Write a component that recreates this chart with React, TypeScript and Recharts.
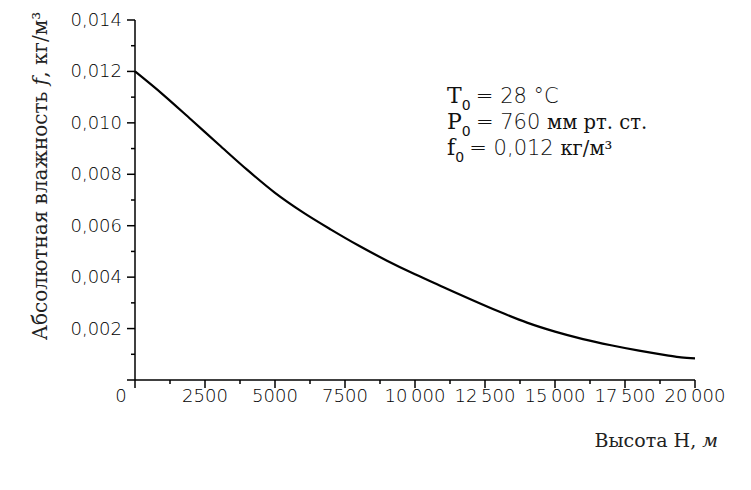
import React from 'react';
import { LineChart, Line, XAxis, YAxis } from 'recharts';

// height, m
const HEIGHTS = [0, 1000, 2000, 3000, 4000, 5000, 6000, 7000, 8000, 9000, 10000, 11000, 12000, 13000, 14000, 15000, 16000, 17000, 18000, 19000, 19500, 20000];
// absolute humidity f, kg/m3
const HUMIDITY = [0.012, 0.0111, 0.01013, 0.00915, 0.00818, 0.00728, 0.00652, 0.00585, 0.00522, 0.00464, 0.00411, 0.00362, 0.00313, 0.00266, 0.00223, 0.00188, 0.00159, 0.00135, 0.00114, 0.00096, 0.00088, 0.00084];

const X_TICKS = [0, 1250, 2500, 3750, 5000, 6250, 7500, 8750, 10000, 11250, 12500, 13750, 15000, 16250, 17500, 18750, 20000];
const Y_TICKS = [0, 0.001, 0.002, 0.003, 0.004, 0.005, 0.006, 0.007, 0.008, 0.009, 0.01, 0.011, 0.012, 0.013, 0.014];

const data = HEIGHTS.map((h, i) => ({ h, f: HUMIDITY[i] }));

const SANS = 'DejaVu Sans';
const SERIF = 'DejaVu Serif';

const fmtX = (v: number) => (v >= 10000 ? `${Math.floor(v / 1000)}\u2009${String(v % 1000).padStart(3, '0')}` : String(v));
const fmtY = (v: number) => v.toFixed(3).replace('.', ',');

const XTick = (props: any) => {
  const { x, y, payload } = props;
  const v = payload.value;
  const major = v % 2500 === 0;
  return (
    <g>
      <line x1={x} x2={x} y1={y} y2={y + (major ? 8 : 4)} stroke="#000" strokeWidth={1.5} />
      {major && (
        <text x={v === 0 ? x - 14 : x} y={y + 22} textAnchor="middle" fontFamily={SANS} fontSize={18} fontWeight={200} fill="#000">
          {fmtX(v)}
        </text>
      )}
    </g>
  );
};

const YTick = (props: any) => {
  const { x, y, payload } = props;
  const v = payload.value;
  const major = Math.round(v * 1000) % 2 === 0;
  return (
    <g>
      <line x1={x - (major ? 8 : 4)} x2={x} y1={y} y2={y} stroke="#000" strokeWidth={1.5} />
      {major && v > 0 && (
        <text x={x - 13} y={y + 6} textAnchor="end" fontFamily={SANS} fontSize={18} fontWeight={200} fill="#000">
          {fmtY(v)}
        </text>
      )}
    </g>
  );
};

const YTitle = () => (
  <text transform="translate(47,176) rotate(-90)" textAnchor="middle" fontFamily={SERIF} fontSize={20} fill="#222">
    Абсолютная влажность <tspan fontStyle="italic">f</tspan>, кг/м³
  </text>
);

const XTitle = () => (
  <text x={718} y={447} textAnchor="end" fontFamily={SERIF} fontSize={19} fill="#222">
    Высота Н, <tspan fontStyle="italic">м</tspan>
  </text>
);

const Sub = ({ children }: { children: React.ReactNode }) => (
  <>
    <tspan fontFamily={SANS} fontSize={14} dy={7}>{children}</tspan>
    <tspan dy={-7}> </tspan>
  </>
);

const Params = () => (
  <g fill="#111" fontSize={21}>
    <text x={447} y={103}>
      <tspan fontFamily={SERIF} fontSize={22}>T</tspan><Sub>0</Sub>
      <tspan fontFamily={SANS} fontWeight={200}>= 28 °C</tspan>
    </text>
    <text x={447} y={129}>
      <tspan fontFamily={SERIF} fontSize={22}>P</tspan><Sub>0</Sub>
      <tspan fontFamily={SANS} fontWeight={200}>= 760 </tspan>
      <tspan fontFamily={SERIF} fontSize={19.5}>мм рт. ст.</tspan>
    </text>
    <text x={447} y={155}>
      <tspan fontFamily={SERIF} fontSize={22}>f</tspan><Sub>0</Sub>
      <tspan fontFamily={SANS} fontWeight={200}>= 0,012 </tspan>
      <tspan fontFamily={SERIF} fontSize={19.5}>кг/м³</tspan>
    </text>
  </g>
);

export default function App() {
  return (
    <div style={{ position: 'absolute', left: 0, top: 0, width: 751, height: 490, background: '#fff' }}>
      <LineChart width={751} height={490} data={data} margin={{ top: 20, right: 56, bottom: 50, left: 0 }}>
        <XAxis
          dataKey="h"
          type="number"
          domain={[0, 20000]}
          ticks={X_TICKS}
          interval={0}
          tick={<XTick />}
          tickSize={0}
          tickMargin={0}
          tickLine={false}
          axisLine={{ stroke: '#000', strokeWidth: 1.5 }}
          height={60}
        />
        <YAxis
          type="number"
          domain={[0, 0.014]}
          ticks={Y_TICKS}
          interval={0}
          tick={<YTick />}
          tickSize={0}
          tickMargin={0}
          tickLine={false}
          axisLine={{ stroke: '#000', strokeWidth: 1.5 }}
          width={135}
        />
        <Line dataKey="f" type="monotone" stroke="#000" strokeWidth={2.2} dot={false} isAnimationActive={false} />
        <YTitle />
        <XTitle />
        <Params />
      </LineChart>
    </div>
  );
}
